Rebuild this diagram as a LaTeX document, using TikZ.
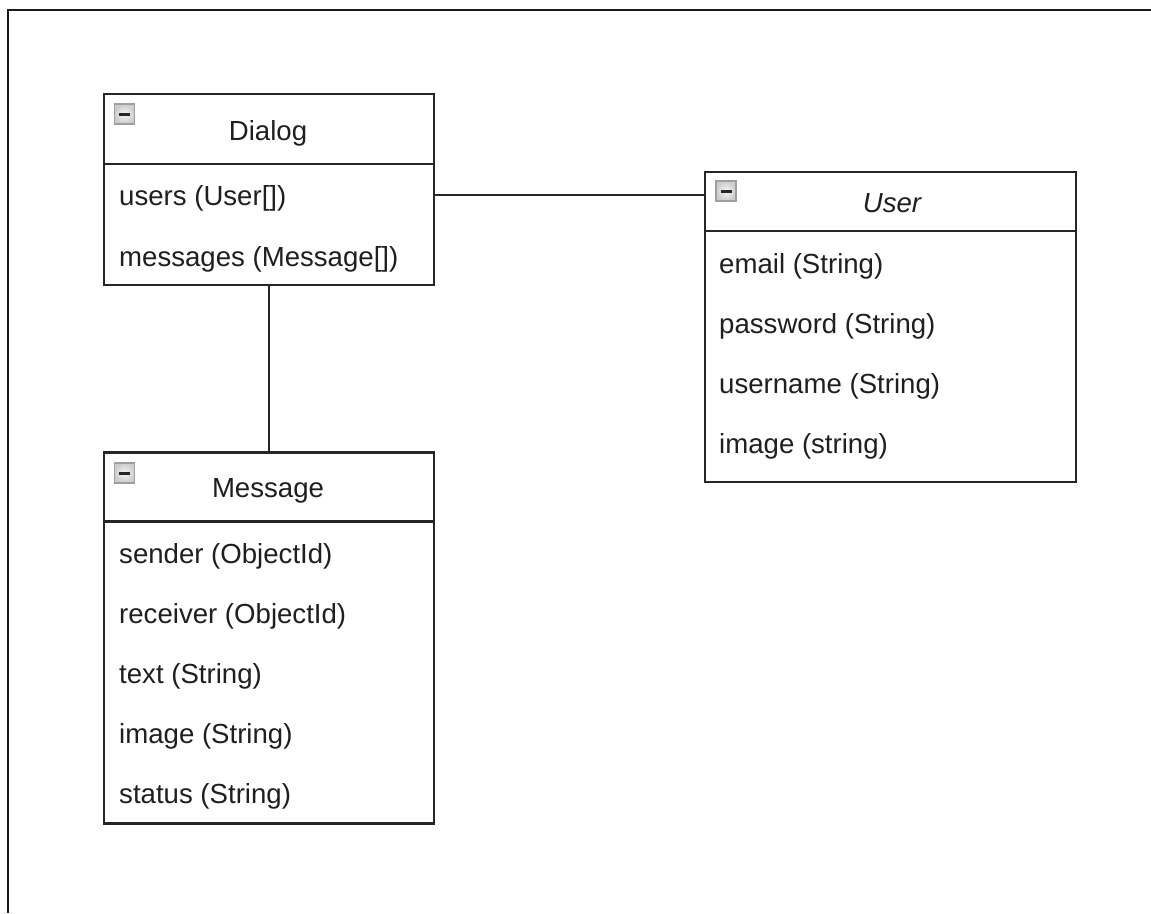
\documentclass[tikz,border=0pt]{standalone}
\usepackage{fontspec}
\setmainfont{Liberation Sans}
\begin{document}
\begin{tikzpicture}[x=1pt,y=-1pt,
  box/.style={draw=black!85, line width=2.3pt, inner sep=0pt, outer sep=0pt, fill=white},
  title/.style={anchor=base, font=\fontsize{27.6}{32}\selectfont, text=black!88, inner sep=0pt},
  attr/.style={anchor=base west, font=\fontsize{27.6}{32}\selectfont, text=black!88, inner sep=0pt},
  icon/.style={draw=gray!75, line width=1.6pt, inner color=gray!8, outer color=gray!40, minimum size=20pt, inner sep=0pt, outer sep=0pt},
  conn/.style={line width=2.3pt, draw=black!85},
  frameline/.style={line width=2pt, draw=black!90}
]
\useasboundingbox (0,0) rectangle (1151,913);
\fill[white] (0,0) rectangle (1151,913);
\draw[frameline] (8,913) -- (8,10) -- (1151,10);

% Dialog
\node[box, minimum width=330, minimum height=70] (dialogH) at (269,129) {};
\node[box, minimum width=330, minimum height=121, anchor=north] (dialogB) at (dialogH.south) {};
\node[icon] (dialogI) at (124.5,114) {\textcolor{black!85}{\rule{11pt}{3pt}}};
\node[title] (dialogT) at (268,140) {Dialog};
\node[attr] (d1) at (119,205) {users (User[])};
\node[attr] (d2) at (119,266) {messages (Message[])};

% User
\node[box, minimum width=371, minimum height=59] (userH) at (890.5,201.5) {};
\node[box, minimum width=371, minimum height=251, anchor=north] (userB) at (userH.south) {};
\node[icon] (userI) at (726,191) {\textcolor{black!85}{\rule{11pt}{3pt}}};
\node[title] (userT) at (892,212.5) {\itshape User};
\node[attr] (u1) at (719,273) {email (String)};
\node[attr] (u2) at (719,333) {password (String)};
\node[attr] (u3) at (719,393) {username (String)};
\node[attr] (u4) at (719,453) {image (string)};

% Message
\node[box, minimum width=330, minimum height=69] (msgH) at (269,487) {};
\node[box, minimum width=330, minimum height=302, anchor=north] (msgB) at (msgH.south) {};
\node[icon] (msgI) at (124.5,473) {\textcolor{black!85}{\rule{11pt}{3pt}}};
\node[title] (msgT) at (268,497) {Message};
\node[attr] (m1) at (119,563) {sender (ObjectId)};
\node[attr] (m2) at (119,623) {receiver (ObjectId)};
\node[attr] (m3) at (119,683) {text (String)};
\node[attr] (m4) at (119,743) {image (String)};
\node[attr] (m5) at (119,803) {status (String)};

% connectors
\draw[conn] (dialogB.east |- 0,195) -- (userH.west |- 0,195);
\draw[conn] (dialogB.south) -- (msgH.north);
\end{tikzpicture}
\end{document}
